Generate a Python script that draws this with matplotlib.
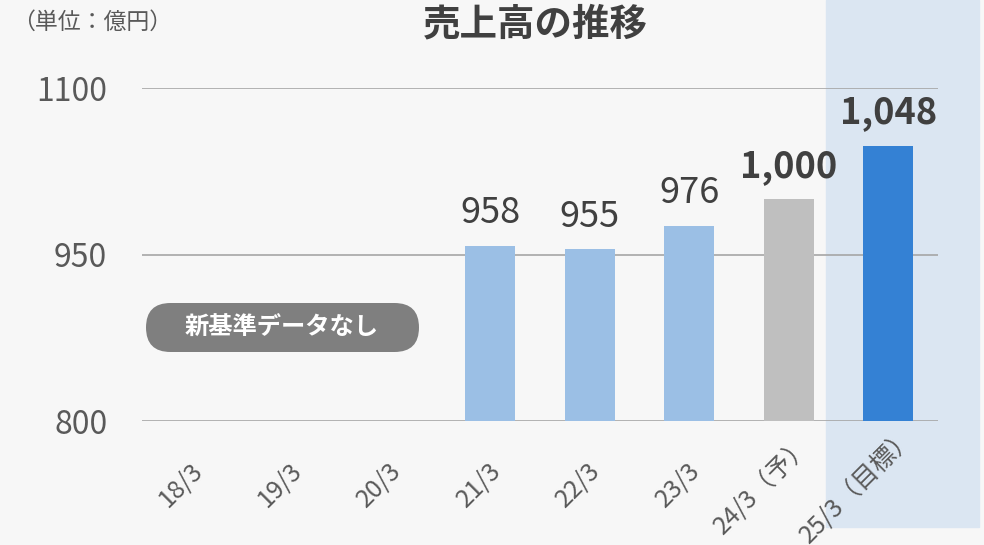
import numpy as np
import matplotlib.pyplot as plt
from matplotlib.patches import Rectangle, FancyBboxPatch
from matplotlib.transforms import ScaledTranslation

plt.rcParams['font.family'] = ['Noto Sans CJK JP', 'DejaVu Sans']

# 売上高データ（18/3〜20/3 は新基準データなし）
categories = ['18/3', '19/3', '20/3', '21/3', '22/3', '23/3', '24/3（予）', '25/3（目標）']
sales = [None, None, None, 958, 955, 976, 1000, 1048]
value_labels = ['', '', '', '958', '955', '976', '1,000', '1,048']
bold_labels = [False, False, False, False, False, False, True, True]
yticks = [800, 950, 1100]

light_blue = '#9bbfe5'
gray_bar = '#bfbfbf'
dark_blue = '#3481d4'
bar_colors = [light_blue] * 6 + [gray_bar, dark_blue]

W, H = 984, 545
fig = plt.figure(figsize=(W / 100, H / 100), dpi=100, facecolor='#f7f7f7')

# 目標年度のハイライト帯
fig.patches.append(Rectangle((826 / W, 1 - 527 / H), 153 / W, 527 / H,
                             transform=fig.transFigure, color='#dbe6f2', zorder=-1))

ax = fig.add_axes([142 / W, 1 - 421 / H, 796 / W, 333 / H])
ax.set_facecolor('none')

idx = [i for i, v in enumerate(sales) if v is not None]
vals = [sales[i] for i in idx]
cols = [bar_colors[i] for i in idx]
ax.bar(idx, vals, width=0.5, color=cols, zorder=3)

for i in idx:
    ax.annotate(value_labels[i], (i, sales[i]), xytext=(0, 16), textcoords='offset points',
                ha='center', va='baseline', fontsize=26,
                fontweight='bold' if bold_labels[i] else 'normal',
                color='#404040', zorder=4)

ax.set_xlim(-0.5, len(categories) - 0.5)
ax.set_ylim(800, 1100)
ax.set_yticks(yticks)
ax.set_yticklabels([str(t) for t in yticks], fontsize=23, color='#595959')
ax.yaxis.grid(True, color='#a6a6a6', linewidth=1.2, zorder=1)
ax.tick_params(axis='y', length=0, pad=25)
for s in ax.spines.values():
    s.set_visible(False)

ax.set_xticks(range(len(categories)))
ax.set_xticklabels(categories, rotation=45, ha='center', va='center',
                   fontsize=18, color='#595959')
ax.tick_params(axis='x', length=0, pad=46)

# 斜めラベルを長さに応じて左へずらす
fig.canvas.draw()
for lbl in ax.get_xticklabels():
    w = lbl.get_window_extent().width
    shift = ScaledTranslation(-(0.28 * w - 4) / 100, 0, fig.dpi_scale_trans)
    lbl.set_transform(lbl.get_transform() + shift)

# タイトルと単位
fig.text(535 / W, 1 - 24 / H, '売上高の推移', ha='center', va='center',
         fontsize=27, fontweight='bold', color='#404040')
fig.text(12 / W, 1 - 22 / H, '（単位：億円）', ha='left', va='center',
         fontsize=16.5, color='#595959')

# 「新基準データなし」ラベル
r = 24.5
fig.patches.append(FancyBboxPatch((146 / W, 1 - 352 / H), 273 / W, 49 / H,
                                  boxstyle=f'round,pad=0,rounding_size={r / W}',
                                  mutation_aspect=W / H, transform=fig.transFigure,
                                  facecolor='#7f7f7f', edgecolor='none', zorder=5))
fig.text(282 / W, 1 - 328 / H, '新基準データなし', ha='center', va='center',
         fontsize=17.5, fontweight='bold', color='white', zorder=6)

fig.savefig('out.png', dpi=100, facecolor=fig.get_facecolor())
